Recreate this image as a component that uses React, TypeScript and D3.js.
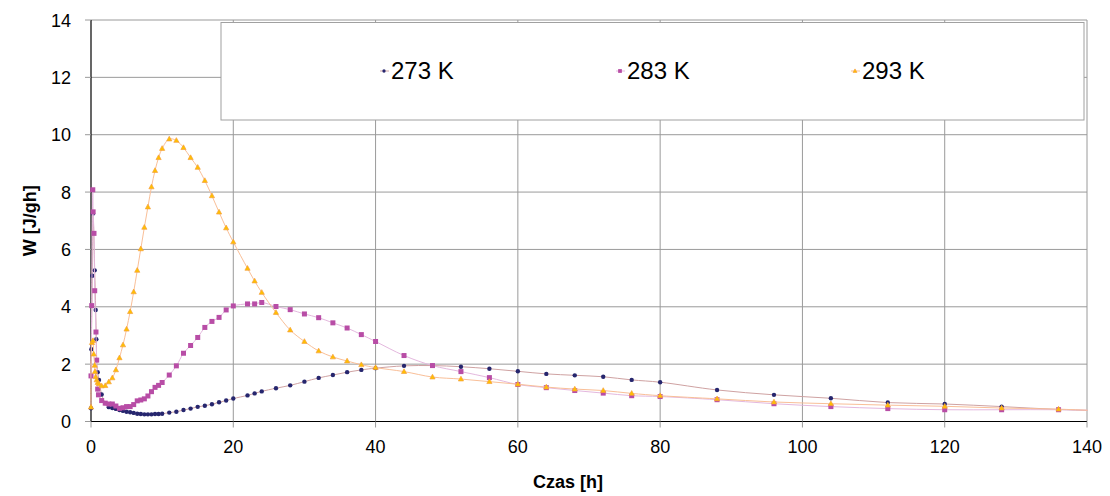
import * as d3 from "d3";

// hours of each reading (same time base for all three series after the first hour)
const hours273 = [0, 0.05, 0.18, 0.28, 0.52, 0.66, 0.75, 0.8, 0.94, 1.12,
  1.5, 2, 2.5, 3, 3.5, 4, 4.5, 5, 5.5, 6, 6.5, 7, 7.5, 8, 8.5, 9, 9.5, 10,
  11, 12, 13, 14, 15, 16, 17, 18, 19, 20, 22, 23, 24,
  26, 28, 30, 32, 34, 36, 38, 40, 44, 48, 52, 56, 60, 64, 68, 72, 76, 80,
  88, 96, 104, 112, 120, 128, 136, 144];
const hours283 = [0, 0.1, 0.25, 0.3, 0.42, 0.52, 0.7, 0.8, 0.94, 1.05,
  1.5, 2, 2.5, 3, 3.5, 4, 4.5, 5, 5.5, 6, 6.5, 7, 7.5, 8, 8.5, 9, 9.5, 10,
  11, 12, 13, 14, 15, 16, 17, 18, 19, 20, 22, 23, 24,
  26, 28, 30, 32, 34, 36, 38, 40, 44, 48, 52, 56, 60, 64, 68, 72, 76, 80,
  88, 96, 104, 112, 120, 128, 136, 144];
const hours293 = [0, 0.14, 0.28, 0.38, 0.52, 0.56, 0.66, 0.8, 0.94, 1.12,
  1.5, 2, 2.5, 3, 3.5, 4, 4.5, 5, 5.5, 6, 6.5, 7, 7.5, 8, 8.5, 9, 9.5, 10,
  11, 12, 13, 14, 15, 16, 17, 18, 19, 20, 22, 23, 24,
  26, 28, 30, 32, 34, 36, 38, 40, 44, 48, 52, 56, 60, 64, 68, 72, 76, 80,
  88, 96, 104, 112, 120, 128, 136, 144];

const w273 = [0.46, 2.52, 5.08, 7.25, 5.27, 3.89, 2.87, 2.15, 1.72, 1.45,
  0.94, 0.64, 0.5, 0.47, 0.44, 0.4, 0.37, 0.34, 0.32, 0.3,
  0.27, 0.26, 0.25, 0.25, 0.25, 0.26, 0.26, 0.27,
  0.31, 0.34, 0.4, 0.45, 0.51, 0.55, 0.6, 0.67, 0.73, 0.8,
  0.91, 0.98, 1.05,
  1.16, 1.26, 1.39, 1.52, 1.62, 1.72, 1.8, 1.86,
  1.94, 1.95, 1.91, 1.84, 1.75, 1.66, 1.61, 1.56, 1.45, 1.37,
  1.1, 0.93, 0.81, 0.66, 0.61, 0.52, 0.42, 0.36];
const w283 = [1.59, 4.04, 8.08, 7.31, 6.56, 4.56, 3.12, 2.14, 1.13, 0.93,
  0.73, 0.64, 0.61, 0.61, 0.54, 0.46, 0.48, 0.52, 0.52, 0.59,
  0.72, 0.75, 0.79, 0.89, 1.04, 1.19, 1.26, 1.36,
  1.62, 1.94, 2.38, 2.65, 2.93, 3.28, 3.49, 3.63, 3.89, 4.03,
  4.1, 4.1, 4.15,
  4.01, 3.9, 3.75, 3.62, 3.44, 3.26, 3.03, 2.79,
  2.3, 1.95, 1.74, 1.53, 1.29, 1.18, 1.08, 0.99, 0.9, 0.87,
  0.76, 0.62, 0.52, 0.45, 0.41, 0.41, 0.41, 0.37];
const w293 = [0.5, 2.75, 2.82, 2.35, 1.96, 1.74, 1.56, 1.45, 1.36, 1.31,
  1.24, 1.25, 1.38, 1.52, 1.8, 2.22, 2.67, 3.22, 3.83, 4.52,
  5.27, 6.02, 6.77, 7.48, 8.18, 8.75, 9.2, 9.52,
  9.85, 9.8, 9.55, 9.2, 8.86, 8.4, 7.87, 7.3, 6.75, 6.26,
  5.34, 4.9, 4.5,
  3.8, 3.19, 2.79, 2.46, 2.25, 2.11, 1.98, 1.88,
  1.74, 1.55, 1.48, 1.39, 1.3, 1.2, 1.13, 1.08, 0.98, 0.9,
  0.79, 0.68, 0.62, 0.57, 0.53, 0.47, 0.43, 0.35];

const seriesNames = ["273 K", "283 K", "293 K"];
const xTicks = [0, 20, 40, 60, 80, 100, 120, 140];
const yTicks = [0, 2, 4, 6, 8, 10, 12, 14];

type Pt = { t: number; w: number };

const FONT = "'Liberation Sans', Arial, sans-serif";

export default function App() {
  const left = 91;
  const right = 1087;
  const top = 20;
  const bottom = 421.5;

  const x = d3.scaleLinear().domain([0, 140]).range([left, right]);
  const y = d3.scaleLinear().domain([0, 14]).range([bottom, top]);

  const toPts = (h: number[], w: number[]): Pt[] =>
    h.map((t, i) => ({ t, w: w[i] }));

  const series = [
    { name: seriesNames[0], pts: toPts(hours273, w273), line: "#cfa2a2", fill: "#26266e", shape: "dot" },
    { name: seriesNames[1], pts: toPts(hours283, w283), line: "#e4b8de", fill: "#b84da6", shape: "square" },
    { name: seriesNames[2], pts: toPts(hours293, w293), line: "#f9bf98", fill: "#ffc000", shape: "tri" },
  ];

  const line = d3
    .line<Pt>()
    .x((d) => x(d.t))
    .y((d) => y(d.w))
    .curve(d3.curveCatmullRom.alpha(0.5));

  const marker = (shape: string, cx: number, cy: number, fill: string, key: string | number, k = 1) => {
    if (shape === "dot")
      return <circle key={key} cx={cx} cy={cy} r={2.2 * k} fill={fill} />;
    if (shape === "square")
      return <rect key={key} x={cx - 2.5 * k} y={cy - 2.5 * k} width={5 * k} height={5 * k} fill={fill} />;
    return (
      <path
        key={key}
        d={`M${cx},${cy - 2.8 * k}L${cx + 2.6 * k},${cy + 1.9 * k}L${cx - 2.6 * k},${cy + 1.9 * k}Z`}
        fill={fill}
        stroke="#f5a040"
        strokeWidth={0.7}
      />
    );
  };

  const legendX = [384, 620, 855];

  return (
    <div style={{ position: "fixed", left: 0, top: 0 }}>
      <svg width={1110} height={496} style={{ display: "block", background: "#fff" }}>
        <defs>
          <clipPath id="plotClip">
            <rect x={0} y={0} width={right + 0.5} height={496} />
          </clipPath>
        </defs>

        {/* grid */}
        {yTicks.filter((v) => v > 0).map((v) => (
          <line key={"gy" + v} x1={left} x2={right} y1={y(v)} y2={y(v)} stroke="#9a9a9a" strokeWidth={1} />
        ))}
        {xTicks.filter((v) => v > 0).map((v) => (
          <line key={"gx" + v} x1={x(v)} x2={x(v)} y1={top} y2={bottom} stroke="#9a9a9a" strokeWidth={1} />
        ))}

        {/* legend box */}
        <rect x={221} y={22.5} width={863} height={97.5} fill="#fff" stroke="#a0a0a0" strokeWidth={1} />
        {series.map((s, i) => (
          <g key={"lg" + i}>
            <line x1={legendX[i] - 4} x2={legendX[i] + 5} y1={71} y2={71} stroke={s.line} strokeWidth={1} />
            {marker(s.shape, legendX[i], 71, s.fill, "m", 0.75)}
            <text x={legendX[i] + 7} y={78.5} fontFamily={FONT} fontSize={24} fill="#000">
              {s.name}
            </text>
          </g>
        ))}

        {/* axes */}
        <line x1={left} x2={left} y1={top} y2={bottom} stroke="#000" strokeWidth={1.2} />
        <line x1={left - 6} x2={right} y1={bottom} y2={bottom} stroke="#000" strokeWidth={1.2} />
        {yTicks.map((v) => (
          <g key={"ty" + v}>
            <line x1={left - 6} x2={left} y1={y(v)} y2={y(v)} stroke="#9a9a9a" />
            <text x={71} y={y(v) + 6.5} textAnchor="end" fontFamily={FONT} fontSize={18} fill="#000">
              {v}
            </text>
          </g>
        ))}
        {xTicks.map((v) => (
          <g key={"tx" + v}>
            <line x1={x(v)} x2={x(v)} y1={bottom} y2={bottom + 6} stroke="#9a9a9a" />
            <text x={x(v)} y={453} textAnchor="middle" fontFamily={FONT} fontSize={18} fill="#000">
              {v}
            </text>
          </g>
        ))}

        {/* series */}
        <g clipPath="url(#plotClip)">
          {series.map((s, i) => (
            <g key={"s" + i}>
              <path d={line(s.pts) ?? ""} fill="none" stroke={s.line} strokeWidth={1} />
              {s.pts.map((p, j) => marker(s.shape, x(p.t), y(p.w), s.fill, j))}
            </g>
          ))}
        </g>

        {/* axis titles */}
        <text
          transform={`translate(30,${(top + bottom) / 2}) rotate(-90)`}
          textAnchor="middle"
          dominantBaseline="central"
          fontFamily={FONT}
          fontSize={18}
          fontWeight="bold"
          fill="#000"
        >
          W [J/gh]
        </text>
        <text x={568} y={488} textAnchor="middle" fontFamily={FONT} fontSize={18} fontWeight="bold" fill="#000">
          Czas [h]
        </text>
      </svg>
    </div>
  );
}
